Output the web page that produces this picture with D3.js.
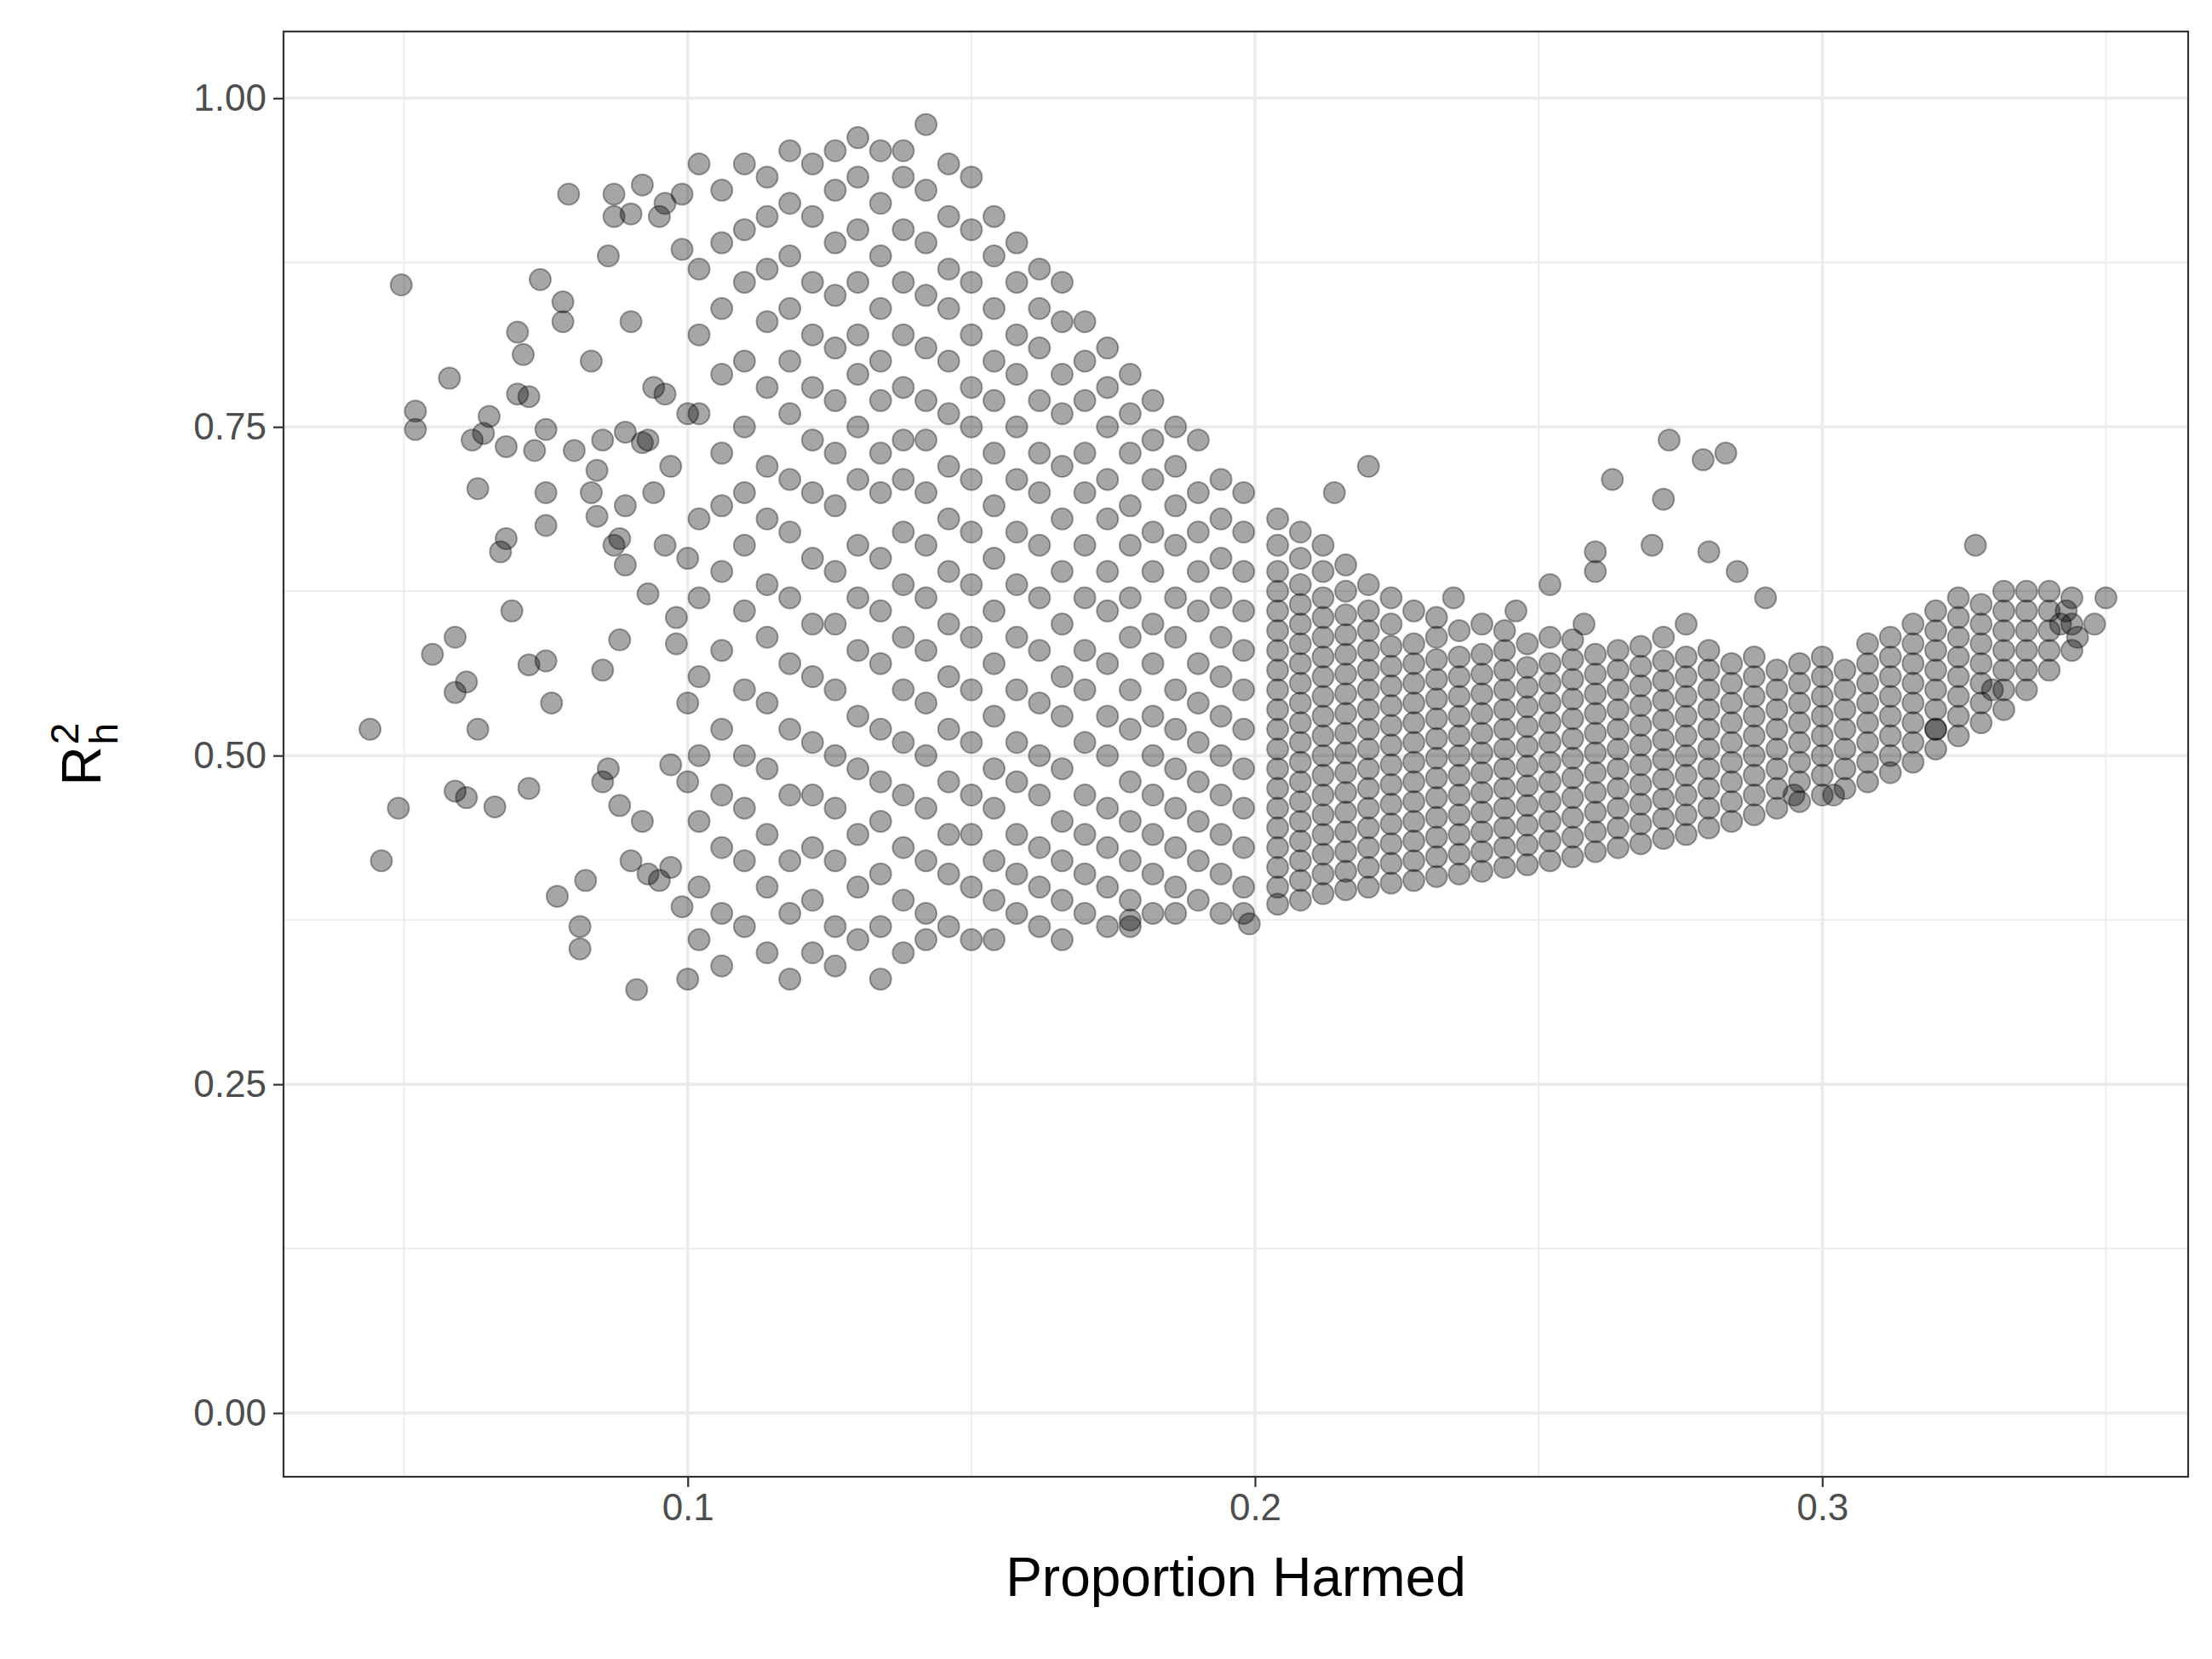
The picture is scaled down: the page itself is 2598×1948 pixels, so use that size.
<!DOCTYPE html>
<html>
<head>
<meta charset="utf-8">
<script src="https://cdn.jsdelivr.net/npm/d3@7"></script>
<style>
  body { margin: 0; background: #fff; }
  text { font-family: Arial, "Liberation Sans", sans-serif; }
</style>
</head>
<body>
<svg id="chart" width="2598" height="1948"></svg>
<script>
// Dimensiones
const svgWidth = 2598
const svgHeight = 1948
const panel = {left: 333, right: 2570, top: 37, bottom: 1734}

// Ticks
const xMajor = [0.1, 0.2, 0.3]
const xMinor = [0.05, 0.15, 0.25, 0.35]
const yMajor = [0, 0.25, 0.5, 0.75, 1]
const yMinor = [0.125, 0.375, 0.625, 0.875]

// Zona dispersa izquierda [x, y]
const sparseLeft = [[0.044,0.52],[0.046,0.42],[0.049,0.46],[0.0495,0.858],[0.052,0.762],[0.052,0.748],[0.055,0.577],[0.058,0.787],[0.059,0.59],[0.059,0.473],[0.059,0.548],[0.061,0.556],[0.061,0.468],[0.062,0.74],[0.063,0.52],[0.063,0.703],[0.064,0.745],[0.065,0.758],[0.066,0.461],[0.067,0.655],[0.068,0.735],[0.068,0.665],[0.069,0.61],[0.07,0.822],[0.07,0.775],[0.071,0.805],[0.072,0.773],[0.072,0.475],[0.072,0.569],[0.073,0.732],[0.074,0.862],[0.075,0.675],[0.075,0.7],[0.075,0.748],[0.075,0.572],[0.076,0.54],[0.077,0.393],[0.078,0.845],[0.078,0.83],[0.079,0.927],[0.08,0.732],[0.081,0.37],[0.081,0.353],[0.082,0.405],[0.083,0.8],[0.083,0.7],[0.084,0.682],[0.084,0.717],[0.085,0.74],[0.085,0.565],[0.085,0.48],[0.086,0.49],[0.086,0.88],[0.087,0.91],[0.087,0.927],[0.087,0.66],[0.088,0.665],[0.088,0.462],[0.088,0.588],[0.089,0.746],[0.089,0.645],[0.089,0.69],[0.09,0.42],[0.09,0.83],[0.09,0.912],[0.091,0.322],[0.092,0.934],[0.092,0.738],[0.092,0.45],[0.093,0.74],[0.093,0.41],[0.093,0.623],[0.094,0.78],[0.094,0.7],[0.095,0.91],[0.095,0.405],[0.096,0.92],[0.096,0.66],[0.096,0.775],[0.097,0.72],[0.097,0.493],[0.097,0.415],[0.098,0.585],[0.098,0.605],[0.099,0.927],[0.099,0.885],[0.099,0.385],[0.1,0.76],[0.1,0.48],[0.1,0.54],[0.1,0.33],[0.1,0.65]]

// Banda central por columnas
const midColumns = [
  [0.102, [.95,.87,.82,.76,.68,.62,.56,.50,.45,.40,.36]],
  [0.106, [.93,.89,.84,.79,.73,.69,.64,.58,.52,.47,.43,.38,.34]],
  [0.110, [.95,.90,.86,.80,.75,.70,.66,.61,.55,.50,.46,.42,.37]],
  [0.114, [.94,.91,.87,.83,.78,.72,.68,.63,.59,.54,.49,.44,.40,.35]],
  [0.118, [.96,.92,.88,.84,.80,.76,.71,.67,.62,.57,.52,.47,.42,.38,.33]],
  [0.122, [.95,.91,.86,.82,.78,.74,.70,.65,.60,.56,.51,.47,.43,.39,.35]],
  [0.126, [.96,.93,.89,.85,.81,.77,.73,.69,.64,.60,.55,.50,.46,.42,.37,.34]],
  [0.130, [.97,.94,.90,.86,.82,.79,.75,.71,.66,.62,.58,.53,.49,.44,.40,.36]],
  [0.134, [.96,.92,.88,.84,.80,.77,.73,.70,.65,.61,.57,.52,.48,.45,.41,.37,.33]],
  [0.138, [.96,.94,.90,.86,.82,.78,.74,.71,.67,.63,.59,.55,.51,.47,.43,.39,.35]],
  [0.142, [.98,.93,.89,.85,.81,.77,.74,.70,.66,.62,.58,.54,.50,.46,.42,.38,.36]],
  [0.146, [.95,.91,.87,.84,.80,.76,.72,.68,.64,.60,.56,.52,.48,.44,.41,.37]],
  [0.150, [.94,.90,.86,.82,.78,.75,.71,.67,.63,.59,.55,.51,.47,.44,.40,.36]],
  [0.154, [.91,.88,.84,.80,.77,.73,.69,.65,.61,.57,.53,.49,.46,.42,.39,.36]],
  [0.158, [.89,.86,.82,.79,.75,.71,.67,.63,.59,.55,.51,.48,.44,.41,.38]],
  [0.162, [.87,.84,.81,.77,.73,.70,.66,.62,.58,.54,.50,.47,.43,.40,.37]],
  [0.166, [.86,.83,.79,.76,.72,.68,.64,.60,.56,.53,.49,.45,.42,.39,.36]],
  [0.170, [.83,.80,.77,.73,.70,.66,.62,.58,.55,.51,.47,.44,.41,.38]],
  [0.174, [.81,.78,.75,.71,.68,.64,.61,.57,.53,.50,.46,.43,.40,.37]],
  [0.178, [.79,.76,.73,.69,.66,.62,.59,.55,.52,.48,.45,.42,.39,.37]],
  [0.182, [.77,.74,.71,.67,.64,.60,.57,.53,.50,.47,.44,.41,.38]],
  [0.186, [.75,.72,.69,.66,.62,.59,.55,.52,.49,.46,.43,.40,.38]],
  [0.190, [.74,.70,.67,.64,.61,.57,.54,.51,.48,.45,.42,.39]],
  [0.194, [.71,.68,.65,.62,.59,.56,.53,.50,.47,.44,.41,.38]],
  [0.198, [.70,.67,.64,.61,.58,.55,.52,.49,.46,.43,.40,.38]]
]

// Brazo denso derecho por columnas
const armColumns = [
  [0.204, [.387,.40,.415,.43,.445,.46,.475,.49,.505,.52,.535,.55,.565,.58,.595,.61,.625,.64,.66,.68]],
  [0.208, [.39,.405,.42,.435,.45,.465,.48,.495,.51,.525,.54,.555,.57,.585,.60,.615,.63,.65,.67]],
  [0.212, [.395,.41,.425,.44,.455,.47,.485,.50,.515,.53,.545,.56,.575,.59,.605,.62,.64,.66]],
  [0.216, [.398,.412,.427,.442,.457,.472,.487,.502,.517,.532,.547,.562,.577,.592,.607,.625,.645]],
  [0.220, [.40,.415,.43,.445,.46,.475,.49,.505,.52,.535,.55,.565,.58,.595,.61,.63]],
  [0.224, [.403,.418,.433,.448,.463,.478,.493,.508,.523,.538,.553,.568,.583,.60,.62]],
  [0.228, [.405,.42,.435,.45,.465,.48,.495,.51,.525,.54,.555,.57,.585,.61]],
  [0.232, [.408,.423,.438,.453,.468,.483,.498,.513,.528,.543,.558,.573,.59,.605]],
  [0.236, [.41,.425,.44,.455,.47,.485,.50,.515,.53,.545,.56,.575,.595]],
  [0.240, [.412,.427,.442,.457,.472,.487,.502,.517,.532,.547,.562,.577,.60]],
  [0.244, [.415,.43,.445,.46,.475,.49,.505,.52,.535,.55,.565,.58,.595]],
  [0.248, [.417,.432,.447,.462,.477,.492,.507,.522,.537,.552,.567,.585]],
  [0.252, [.42,.435,.45,.465,.48,.495,.51,.525,.54,.555,.57,.59]],
  [0.256, [.423,.438,.453,.468,.483,.498,.513,.528,.543,.558,.573,.588]],
  [0.260, [.427,.442,.457,.472,.487,.502,.517,.532,.547,.562,.577]],
  [0.264, [.43,.445,.46,.475,.49,.505,.52,.535,.55,.565,.58]],
  [0.268, [.433,.448,.463,.478,.493,.508,.523,.538,.553,.568,.583]],
  [0.272, [.437,.452,.467,.482,.497,.512,.527,.542,.557,.572,.59]],
  [0.276, [.44,.455,.47,.485,.50,.515,.53,.545,.56,.575]],
  [0.280, [.445,.46,.475,.49,.505,.52,.535,.55,.565,.58]],
  [0.284, [.45,.465,.48,.495,.51,.525,.54,.555,.57]],
  [0.288, [.455,.47,.485,.50,.515,.53,.545,.56,.575]],
  [0.292, [.46,.475,.49,.505,.52,.535,.55,.565]],
  [0.296, [.465,.48,.495,.51,.525,.54,.555,.57]],
  [0.300, [.47,.485,.50,.515,.53,.545,.56,.575]],
  [0.304, [.475,.49,.505,.52,.535,.55,.565]],
  [0.308, [.48,.495,.51,.525,.54,.555,.57,.585]],
  [0.312, [.487,.50,.515,.53,.545,.56,.575,.59]],
  [0.316, [.495,.51,.525,.54,.555,.57,.585,.60]],
  [0.320, [.505,.52,.535,.55,.565,.58,.595,.61]],
  [0.324, [.515,.53,.545,.56,.575,.59,.605,.62]],
  [0.328, [.525,.54,.555,.57,.585,.60,.615]],
  [0.332, [.535,.55,.565,.58,.595,.61,.625]],
  [0.336, [.55,.565,.58,.595,.61,.625]],
  [0.340, [.565,.58,.595,.61,.625]],
  [0.344, [.58,.60,.62]],
  [0.348, [.60]]
]

// Puntos sueltos del brazo
const armOutliers = [[0.22,0.72],[0.214,0.7],[0.235,0.62],[0.246,0.61],[0.26,0.64],[0.263,0.71],[0.27,0.66],[0.272,0.695],[0.273,0.74],[0.279,0.725],[0.283,0.73],[0.28,0.655],[0.285,0.64],[0.276,0.6],[0.29,0.62],[0.252,0.63],[0.258,0.6],[0.327,0.66],[0.35,0.62],[0.342,0.6],[0.345,0.59],[0.343,0.61],[0.33,0.55],[0.32,0.52],[0.295,0.47],[0.302,0.47],[0.26,0.655],[0.199,0.372],[0.178,0.375]]

const points = [
  ...sparseLeft,
  ...midColumns.flatMap(([x, ys]) => ys.map(y => [x, y])),
  ...armColumns.flatMap(([x, ys]) => ys.map(y => [x, y])),
  ...armOutliers
]

// Escalas
const xScale = d3.scaleLinear([0.02875, 0.3645], [panel.left, panel.right])
const yScale = d3.scaleLinear([-0.0485, 1.0507], [panel.bottom, panel.top])

const svg = d3.select('#chart')

// Rejilla
const grid = svg.append('g')
grid.selectAll('.xmin').data(xMinor).join('line')
  .attr('x1', d => xScale(d)).attr('x2', d => xScale(d))
  .attr('y1', panel.top).attr('y2', panel.bottom)
  .attr('stroke', '#EBEBEB').attr('stroke-width', 1.8)
grid.selectAll('.ymin').data(yMinor).join('line')
  .attr('y1', d => yScale(d)).attr('y2', d => yScale(d))
  .attr('x1', panel.left).attr('x2', panel.right)
  .attr('stroke', '#EBEBEB').attr('stroke-width', 1.8)
grid.selectAll('.xmaj').data(xMajor).join('line')
  .attr('x1', d => xScale(d)).attr('x2', d => xScale(d))
  .attr('y1', panel.top).attr('y2', panel.bottom)
  .attr('stroke', '#EBEBEB').attr('stroke-width', 3.6)
grid.selectAll('.ymaj').data(yMajor).join('line')
  .attr('y1', d => yScale(d)).attr('y2', d => yScale(d))
  .attr('x1', panel.left).attr('x2', panel.right)
  .attr('stroke', '#EBEBEB').attr('stroke-width', 3.6)

// Puntos
svg.append('g').selectAll('circle').data(points).join('circle')
  .attr('cx', d => xScale(d[0]))
  .attr('cy', d => yScale(d[1]))
  .attr('r', 12.5)
  .attr('fill', '#000').attr('fill-opacity', 0.35)
  .attr('stroke', '#000').attr('stroke-opacity', 0.35).attr('stroke-width', 2)

// Borde
svg.append('rect')
  .attr('x', panel.left).attr('y', panel.top)
  .attr('width', panel.right - panel.left).attr('height', panel.bottom - panel.top)
  .attr('fill', 'none').attr('stroke', '#333333').attr('stroke-width', 2.2)

// Ejes
const xAxis = d3.axisBottom(xScale).tickValues(xMajor).tickFormat(d3.format('.1f')).tickSize(12).tickPadding(8)
svg.append('g').attr('transform', `translate(0, ${panel.bottom})`).call(xAxis)
  .call(g => g.select('.domain').remove())
  .call(g => g.selectAll('line').attr('stroke', '#333333').attr('stroke-width', 2.2))
  .call(g => g.selectAll('text').attr('fill', '#4D4D4D').attr('font-size', 44))

const yAxis = d3.axisLeft(yScale).tickValues(yMajor).tickFormat(d3.format('.2f')).tickSize(12).tickPadding(8)
svg.append('g').attr('transform', `translate(${panel.left}, 0)`).call(yAxis)
  .call(g => g.select('.domain').remove())
  .call(g => g.selectAll('line').attr('stroke', '#333333').attr('stroke-width', 2.2))
  .call(g => g.selectAll('text').attr('fill', '#4D4D4D').attr('font-size', 44))

// Títulos
svg.append('text')
  .attr('x', (panel.left + panel.right) / 2).attr('y', 1874)
  .attr('text-anchor', 'middle').attr('font-size', 64).attr('fill', '#000')
  .text('Proportion Harmed')

const yTitle = svg.append('text')
  .attr('transform', `translate(118, ${(panel.top + panel.bottom) / 2}) rotate(-90)`)
  .attr('text-anchor', 'middle').attr('font-size', 64).attr('fill', '#000')
yTitle.append('tspan').text('R')
yTitle.append('tspan').attr('font-size', 46).attr('dy', -26).attr('dx', 2).text('2')
yTitle.append('tspan').attr('font-size', 46).attr('dy', 46).attr('dx', -26).text('h')
</script>
</body>
</html>
